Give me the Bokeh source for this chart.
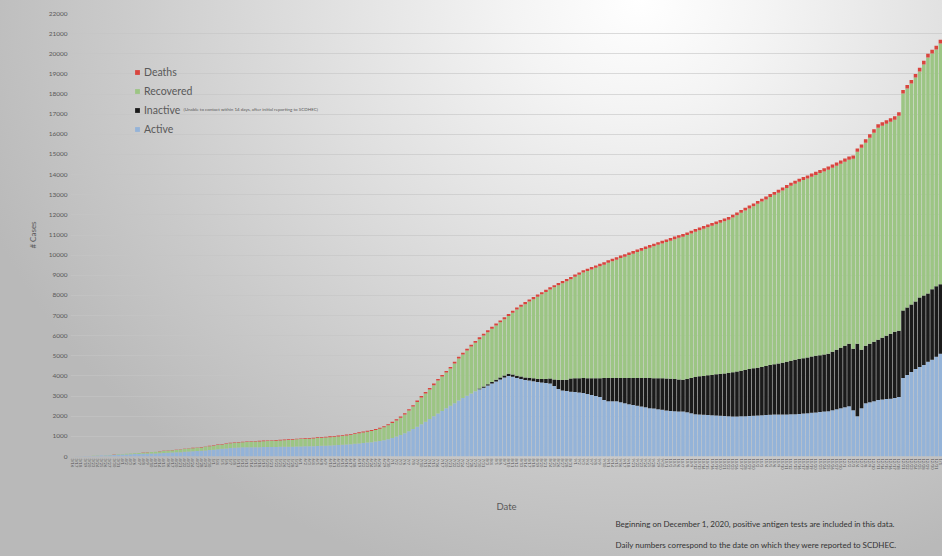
import pandas as pd
from bokeh.plotting import figure
from bokeh.models import (ColumnDataSource, FactorRange, Range1d, Legend, LegendItem,
                          Label, Title, FixedTicker)
from bokeh.embed import file_html
from bokeh.resources import INLINE

try:
    from bokeh.models import GlobalInlineStyleSheet
except Exception:
    GlobalInlineStyleSheet = None

# ---------------- data ----------------
dates = [f"{d.month}/{d.day}" for d in pd.bdate_range("2020-03-16", periods=210)]

total = [
    5, 10, 15, 20, 25, 35, 45, 55, 65, 80,
    95, 110, 125, 140, 150, 165, 180, 195, 210, 225,
    240, 260, 280, 300, 320, 340, 360, 385, 410, 430,
    450, 470, 500, 530, 560, 590, 620, 650, 680, 700,
    720, 735, 750, 760, 770, 780, 790, 800, 810, 820,
    830, 840, 855, 870, 885, 900, 910, 920, 935, 950,
    965, 980, 1000, 1020, 1040, 1060, 1090, 1120, 1160, 1200,
    1240, 1280, 1320, 1370, 1430, 1500, 1600, 1720, 1850, 1990,
    2150, 2350, 2550, 2780, 3000, 3200, 3400, 3620, 3850, 4050,
    4250, 4450, 4700, 4950, 5150, 5350, 5550, 5740, 5920, 6100,
    6270, 6440, 6600, 6760, 6920, 7080, 7240, 7400, 7540, 7670,
    7800, 7920, 8040, 8160, 8280, 8400, 8510, 8620, 8720, 8820,
    8920, 9040, 9140, 9250, 9330, 9410, 9490, 9570, 9650, 9740,
    9820, 9900, 9980, 10050, 10130, 10200, 10280, 10350, 10430, 10500,
    10570, 10640, 10710, 10780, 10850, 10920, 10990, 11050, 11130, 11210,
    11300, 11370, 11450, 11520, 11600, 11670, 11750, 11820, 11900, 12010,
    12120, 12240, 12350, 12460, 12570, 12690, 12800, 12910, 13030, 13140,
    13250, 13360, 13480, 13590, 13700, 13790, 13880, 13960, 14050, 14140,
    14230, 14310, 14400, 14500, 14600, 14700, 14800, 14900, 14950, 15300,
    15500, 15750, 16000, 16250, 16500, 16600, 16700, 16800, 16900, 17100,
    18200, 18450, 18700, 19000, 19300, 19650, 20000, 20200, 20400, 20700,
]

active = [
    5, 10, 15, 20, 25, 30, 40, 45, 55, 65,
    75, 85, 95, 105, 110, 120, 125, 135, 140, 150,
    155, 165, 175, 185, 195, 205, 215, 230, 245, 255,
    270, 285, 300, 320, 340, 360, 380, 400, 420, 440,
    450, 455, 460, 460, 465, 465, 470, 470, 475, 475,
    480, 480, 485, 490, 495, 500, 505, 510, 515, 520,
    530, 540, 550, 560, 570, 580, 595, 610, 630, 650,
    670, 690, 710, 740, 770, 810, 860, 920, 990, 1070,
    1150, 1250, 1360, 1480, 1600, 1730, 1860, 2000, 2130, 2260,
    2390, 2520, 2650, 2780, 2900, 3020, 3130, 3240, 3340, 3420,
    3520, 3620, 3720, 3820, 3920, 4000, 3960, 3900, 3850, 3800,
    3780, 3740, 3700, 3680, 3650, 3620, 3500, 3350, 3280, 3250,
    3220, 3200, 3180, 3150, 3100, 3050, 3000, 2950, 2800, 2750,
    2750, 2740, 2700, 2650, 2600, 2560, 2520, 2480, 2440, 2400,
    2380, 2350, 2320, 2290, 2260, 2250, 2240, 2230, 2200, 2150,
    2100, 2080, 2070, 2060, 2050, 2040, 2020, 2010, 2000, 1990,
    1990, 2000, 2000, 2010, 2020, 2030, 2050, 2060, 2070, 2080,
    2080, 2090, 2090, 2100, 2100, 2110, 2130, 2150, 2170, 2190,
    2210, 2230, 2250, 2300, 2350, 2400, 2450, 2500, 2300, 2000,
    2400, 2650, 2700, 2750, 2800, 2830, 2850, 2870, 2900, 2950,
    3900, 4050, 4200, 4350, 4450, 4550, 4700, 4800, 4950, 5100,
]

inactive = [0] * 98 + [
    40, 60,
    70, 80, 90, 100, 100, 110, 110, 110, 120, 120,
    130, 140, 150, 170, 200, 250, 320, 450, 520, 560,
    650, 680, 700, 750, 790, 840, 890, 940, 1100, 1150,
    1150, 1160, 1200, 1250, 1300, 1340, 1380, 1420, 1460, 1500,
    1500, 1530, 1560, 1580, 1600, 1600, 1590, 1580, 1650, 1750,
    1850, 1900, 1930, 1970, 2000, 2040, 2080, 2110, 2150, 2190,
    2230, 2260, 2300, 2330, 2360, 2380, 2400, 2430, 2470, 2500,
    2540, 2570, 2610, 2650, 2700, 2730, 2750, 2770, 2790, 2810,
    2820, 2830, 2850, 2900, 2950, 3000, 3050, 3100, 3050, 3600,
    2900, 2850, 2900, 2950, 3000, 3070, 3150, 3230, 3300, 3300,
    3350, 3350, 3350, 3350, 3450, 3450, 3400, 3500, 3500, 3450,
]

deaths = [
    0, 0, 0, 0, 0, 1, 1, 1, 2, 2,
    2, 3, 3, 4, 4, 5, 5, 6, 6, 7,
    8, 9, 10, 10, 11, 12, 13, 14, 15, 16,
    17, 18, 19, 20, 21, 22, 23, 24, 25, 26,
    27, 28, 28, 29, 29, 30, 30, 31, 31, 32,
    32, 33, 33, 34, 34, 35, 35, 36, 36, 37,
    38, 38, 39, 40, 41, 42, 43, 44, 45, 46,
    47, 48, 49, 50, 51, 52, 54, 56, 58, 60,
    62, 64, 66, 68, 70, 72, 74, 76, 78, 80,
    82, 84, 86, 88, 89, 90, 91, 92, 93, 94,
    95, 96, 97, 98, 99, 100, 101, 102, 103, 104,
    105, 106, 107, 108, 109, 110, 111, 112, 113, 114,
    115, 116, 117, 118, 119, 120, 121, 121, 122, 122,
    123, 123, 124, 124, 125, 125, 126, 126, 127, 127,
    128, 128, 129, 129, 130, 130, 131, 131, 132, 132,
    133, 133, 134, 134, 135, 135, 136, 136, 137, 137,
    138, 138, 139, 139, 140, 141, 142, 143, 144, 145,
    146, 147, 148, 149, 150, 151, 152, 153, 154, 155,
    156, 157, 158, 159, 160, 161, 162, 163, 164, 165,
    166, 167, 168, 169, 170, 171, 172, 173, 174, 175,
    177, 179, 181, 183, 185, 187, 189, 191, 193, 195,
]

recovered = [t - a - i - d for t, a, i, d in zip(total, active, inactive, deaths)]

y_ticks = list(range(0, 22001, 1000))
series_names = ["active", "inactive", "recovered", "deaths"]
series_colors = ["#94b3d8", "#1b1b1b", "#9cc584", "#d9453e"]

FONT = "Lato"
TXT = "#595959"

source = ColumnDataSource(dict(date=dates, active=active, inactive=inactive,
                               recovered=recovered, deaths=deaths))

p = figure(width=942, height=556,
           x_range=FactorRange(factors=dates, range_padding=0),
           y_range=Range1d(0, 22000),
           output_backend="svg", toolbar_location=None,
           min_border_left=70, min_border_right=0,
           min_border_top=13, min_border_bottom=99)

p.background_fill_color = None
p.border_fill_color = None
p.outline_line_color = None

renderers = p.vbar_stack(series_names, x="date", width=0.86, source=source,
                         fill_color=series_colors, line_color=None)

# axes
p.yaxis.ticker = FixedTicker(ticks=y_ticks)
p.yaxis.major_label_text_font_size = "6.5px"
p.yaxis.major_label_text_color = TXT
p.yaxis.major_label_text_font = FONT
p.yaxis.axis_line_color = None
p.yaxis.major_tick_line_color = None
p.yaxis.major_tick_out = 0
p.yaxis.major_tick_in = 0
p.yaxis.minor_tick_line_color = None
p.yaxis.major_label_standoff = 3
p.yaxis.axis_label = "# Cases"
p.yaxis.axis_label_text_font_size = "8px"
p.yaxis.axis_label_text_font_style = "normal"
p.yaxis.axis_label_text_font = FONT
p.yaxis.axis_label_text_color = TXT
p.yaxis.axis_label_standoff = 8

p.xaxis.major_label_orientation = "vertical"
p.xaxis.major_label_text_font_size = "4px"
p.xaxis.major_label_text_color = "#555555"
p.xaxis.major_label_text_font = FONT
p.xaxis.axis_line_color = None
p.xaxis.major_tick_line_color = None
p.xaxis.major_tick_out = 0
p.xaxis.major_tick_in = 0
p.xaxis.minor_tick_line_color = None
p.xaxis.major_label_standoff = 2
p.xaxis.axis_label = "Date"
p.xaxis.axis_label_text_font_size = "9.5px"
p.xaxis.axis_label_text_font_style = "normal"
p.xaxis.axis_label_text_font = FONT
p.xaxis.axis_label_text_color = TXT
p.xaxis.axis_label_standoff = 28

p.xgrid.grid_line_color = None
p.ygrid.grid_line_color = "#c4c4c4"
p.ygrid.grid_line_alpha = 0.6

# legend
legend = Legend(items=[
    LegendItem(label="Deaths", renderers=[renderers[3]]),
    LegendItem(label="Recovered", renderers=[renderers[2]]),
    LegendItem(label="Inactive", renderers=[renderers[1]]),
    LegendItem(label="Active", renderers=[renderers[0]]),
], location=(64, 320))
legend.background_fill_alpha = 0
legend.border_line_alpha = 0
legend.padding = 0
legend.margin = 0
legend.spacing = 5
legend.label_height = 14
legend.glyph_width = 6
legend.glyph_height = 6
legend.label_standoff = 4
legend.label_text_font_size = "10.5px"
legend.label_text_font = FONT
legend.label_text_color = TXT
p.add_layout(legend)

note = Label(x=113, y=347, x_units="screen", y_units="screen",
             text="(Unable to contact within 14 days, after initial reporting to SCDHEC)",
             text_font_size="4.5px", text_font=FONT, text_color=TXT,
             text_baseline="middle")
p.add_layout(note)

foot1 = Title(text="Beginning on December 1, 2020, positive antigen tests are included in this data.",
              align="left", offset=545, text_font_size="8px", text_font_style="normal",
              text_font=FONT, text_color="#333333", standoff=5)
foot2 = Title(text="Daily numbers correspond to the date on which they were reported to SCDHEC.",
              align="left", offset=545, text_font_size="8px", text_font_style="normal",
              text_font=FONT, text_color="#333333", standoff=13)
p.add_layout(foot1, "below")
p.add_layout(foot2, "below")

bg_css = ("html { min-height: 100%; background: radial-gradient(ellipse 700px 600px at 640px 0px, "
          "#ffffff 0%, #f4f4f4 18%, #dedede 48%, #cacaca 75%, #b9b9b9 100%); }")
if GlobalInlineStyleSheet is not None:
    p.stylesheets = [GlobalInlineStyleSheet(css=bg_css)]

open("out.html", "w").write(file_html(p, INLINE))
